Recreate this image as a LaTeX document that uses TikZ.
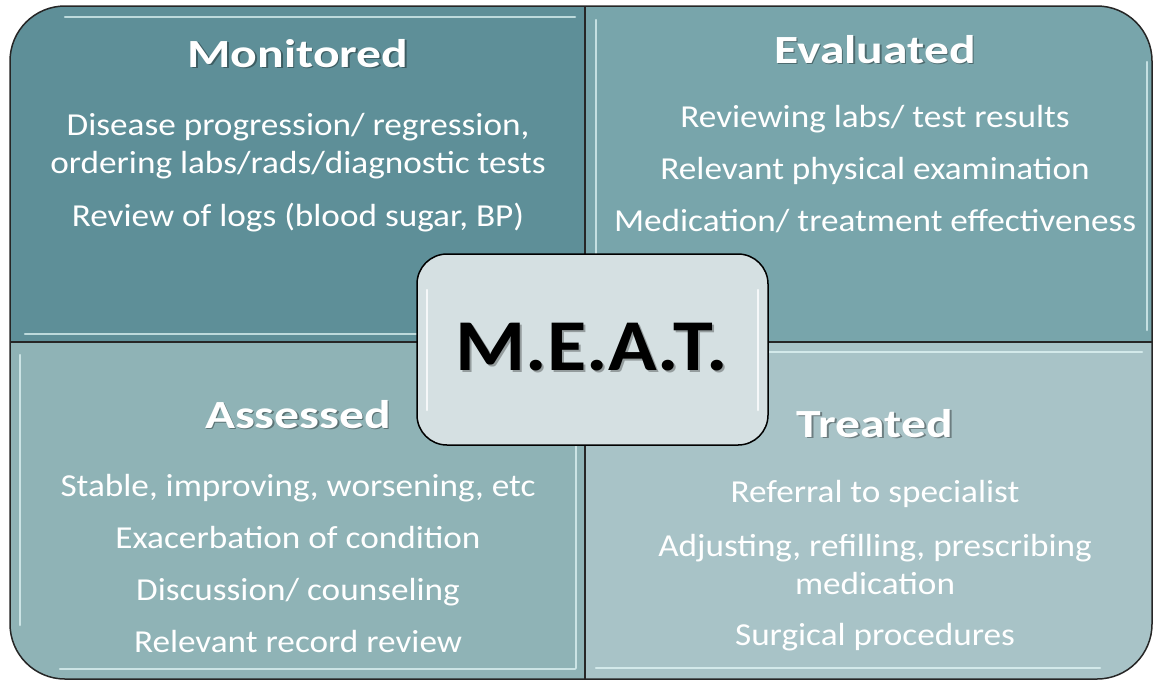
\documentclass[tikz,border=0pt]{standalone}
\usepackage{fontspec}
\setmainfont{Carlito}[FakeStretch=1.10]
\newfontfamily\titlefont{Carlito}[FakeStretch=1.24]
\usetikzlibrary{positioning}

\definecolor{monfill}{HTML}{5E8F98}
\definecolor{evafill}{HTML}{78A5AB}
\definecolor{assfill}{HTML}{8FB3B6}
\definecolor{trefill}{HTML}{A8C3C7}
\definecolor{meatfill}{HTML}{D5E0E2}
\definecolor{bevelcol}{HTML}{E6FAFA}

\begin{document}
\begin{tikzpicture}[x=1pt, y=-1pt,
        title/.style={font=\titlefont\bfseries\fontsize{40}{44}\selectfont, text=white, inner sep=0pt, anchor=base},
        titleshade/.style={title, text=black, opacity=0.35},
        item/.style={font=\fontsize{32}{38}\selectfont, text=white, align=center, inner sep=0pt},
        bevel/.style={draw=bevelcol, opacity=0.7, line width=2.5pt, line cap=round},
        meat/.style={rectangle, rounded corners=30pt, draw, line width=1.5pt, fill=meatfill,
                     minimum width=351pt, minimum height=191pt},
        meatlabel/.style={font=\bfseries\fontsize{73}{80}\selectfont, inner sep=0pt, anchor=base},
    ]
    \useasboundingbox (0,0) rectangle (1155,681);
    % quadrants
    \begin{scope}
        \clip[rounded corners=55pt] (10,6) rectangle (1152,679);
        \fill[monfill] (10,6) rectangle (585,342);
        \fill[evafill] (585,6) rectangle (1152,342);
        \fill[assfill] (10,342) rectangle (585,679);
        \fill[trefill] (585,342) rectangle (1152,679);
    \end{scope}
    \path[bevel] (65,17) -- (575,17);
    \path[bevel] (25,334) -- (578,334);
    \path[bevel] (596,20) -- (596,330);
    \path[bevel] (1147,62) -- (1147,330);
    \path[bevel] (20,355) -- (20,625);
    \path[bevel] (576,355) -- (576,668);
    \path[bevel] (596,352) -- (1142,352);
    \path[bevel] (60,669) -- (575,669);
    \path[bevel] (596,668) -- (1100,668);
    \draw[line width=1.5pt, black!85] (585,6) -- (585,679);
    \draw[line width=1.5pt, black!85] (10,342) -- (1152,342);
    \draw[line width=1.5pt, black!85, rounded corners=55pt] (10,6) rectangle (1152,679);

    % Monitored
    \node[titleshade] (monsh) at (299.5,68.5) {Monitored};
    \node[title] (mon) at (298,67) {Monitored};
    \node[item, below=106pt of mon.base, anchor=base] (mon1) {Disease progression/ regression,\\ordering labs/rads/diagnostic tests};
    \node[item, below=53pt of mon1.base, anchor=base] (mon2) {Review of logs (blood sugar, BP)};

    % Evaluated
    \node[titleshade] (evash) at (876.5,64.5) {Evaluated};
    \node[title] (eva) at (875,63) {Evaluated};
    \node[item, below=64pt of eva.base, anchor=base] (eva1) {Reviewing labs/ test results};
    \node[item, below=52pt of eva1.base, anchor=base] (eva2) {Relevant physical examination};
    \node[item, below=52pt of eva2.base, anchor=base] (eva3) {Medication/ treatment effectiveness};

    % Assessed
    \node[titleshade] (asssh) at (299.5,429.5) {Assessed};
    \node[title] (ass) at (298,428) {Assessed};
    \node[item, below=68pt of ass.base, anchor=base] (ass1) {Stable, improving, worsening, etc};
    \node[item, below=52pt of ass1.base, anchor=base] (ass2) {Exacerbation of condition};
    \node[item, below=52pt of ass2.base, anchor=base] (ass3) {Discussion/ counseling};
    \node[item, below=52pt of ass3.base, anchor=base] (ass4) {Relevant record review};

    % Treated
    \node[titleshade] (tresh) at (876.5,438.5) {Treated};
    \node[title] (tre) at (875,437) {Treated};
    \node[item, below=65pt of tre.base, anchor=base] (tre1) {Referral to specialist};
    \node[item, below=92pt of tre1.base, anchor=base] (tre2) {Adjusting, refilling, prescribing\\medication};
    \node[item, below=51pt of tre2.base, anchor=base] (tre3) {Surgical procedures};

    % centre
    \node[meat] (meat) at (592.5,349.5) {};
    \path[bevel, draw=white, opacity=0.8] (427,290) -- (427,410);
    \path[bevel, draw=white, opacity=0.8] (758,290) -- (758,410);
    \node[meatlabel, text=black, opacity=0.3] (meatsh) at (594,372) {M.E.A.T.};
    \node[meatlabel] (meattxt) at (592,370) {M.E.A.T.};
\end{tikzpicture}
\end{document}
